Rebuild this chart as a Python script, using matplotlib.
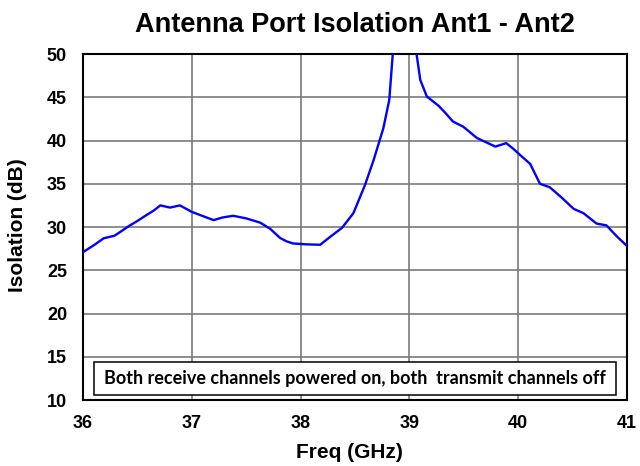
import matplotlib
matplotlib.use("Agg")
import matplotlib.pyplot as plt
from matplotlib.patches import Rectangle

# measured isolation, Ant1 -> Ant2
freq_ghz = [36.00, 36.10, 36.19, 36.29, 36.35, 36.42, 36.50, 36.585, 36.65,
            36.71, 36.80, 36.89, 36.95, 37.00, 37.105, 37.20, 37.28, 37.38,
            37.50, 37.63, 37.72, 37.81, 37.87, 37.93, 38.05, 38.18, 38.27,
            38.38, 38.485, 38.59, 38.67, 38.76, 38.815, 38.85, 38.95, 39.06,
            39.10, 39.16, 39.27, 39.33, 39.40, 39.495, 39.62, 39.79, 39.89,
            39.95, 40.02, 40.11, 40.20, 40.29, 40.40, 40.51, 40.60, 40.72,
            40.81, 40.90, 41.00]
isolation_db = [27.1, 27.9, 28.7, 29.0, 29.5, 30.1, 30.7, 31.4, 31.9,
                32.5, 32.25, 32.5, 32.1, 31.75, 31.25, 30.8, 31.1, 31.3,
                31.0, 30.5, 29.8, 28.75, 28.35, 28.1, 28.0, 27.95, 28.85,
                29.9, 31.6, 34.8, 37.7, 41.4, 44.7, 50.5, 58.0, 50.5,
                47.0, 45.1, 44.0, 43.2, 42.2, 41.6, 40.3, 39.3, 39.7,
                39.1, 38.3, 37.3, 35.0, 34.6, 33.4, 32.1, 31.6, 30.4,
                30.2, 29.0, 27.8]

x_ticks = [36, 37, 38, 39, 40, 41]
y_ticks = [10, 15, 20, 25, 30, 35, 40, 45, 50]
note = "Both receive channels powered on, both  transmit channels off"

plt.rcParams['font.family'] = ['Liberation Sans', 'DejaVu Sans']

fig = plt.figure(figsize=(6.4, 4.66), dpi=100)
ax = fig.add_axes([0.1297, 0.1416, 0.85, 0.7424])

ax.plot(freq_ghz, isolation_db, color='#0000ff', lw=1.7, zorder=3)

ax.set_xlim(36, 41)
ax.set_ylim(10, 50)
ax.set_xticks(x_ticks)
ax.set_yticks(y_ticks)
ax.grid(True, color='#7a7a7a', lw=1.2)
ax.set_axisbelow(True)
ax.tick_params(length=0, labelsize=13)
ax.tick_params(axis='x', pad=11)
ax.tick_params(axis='y', pad=11.5)
for lbl in ax.get_xticklabels() + ax.get_yticklabels():
    lbl.set_fontweight('bold')
for sp in ax.spines.values():
    sp.set_linewidth(1.5)
    sp.set_color('black')

ax.set_title('Antenna Port Isolation Ant1 - Ant2', fontsize=19.5,
             fontweight='bold', pad=16)
ax.set_xlabel('Freq (GHz)', fontsize=15, fontweight='bold')
ax.set_ylabel('Isolation (dB)', fontsize=15, fontweight='bold')
ax.xaxis.set_label_coords(0.49, -0.125)
ax.yaxis.set_label_coords(-0.1035, 0.506)

# annotation box along the bottom of the plot area
ax.add_patch(Rectangle((0.0197, 0.0145), 0.9606, 0.0955,
                       transform=ax.transAxes, facecolor='white',
                       edgecolor='black', lw=1.1, zorder=4))
ax.text(0.5, 0.062, note, transform=ax.transAxes, ha='center', va='center',
        fontsize=13, fontweight='bold', family=['Lato', 'DejaVu Sans'],
        zorder=5)

fig.savefig('out.png', dpi=100)
